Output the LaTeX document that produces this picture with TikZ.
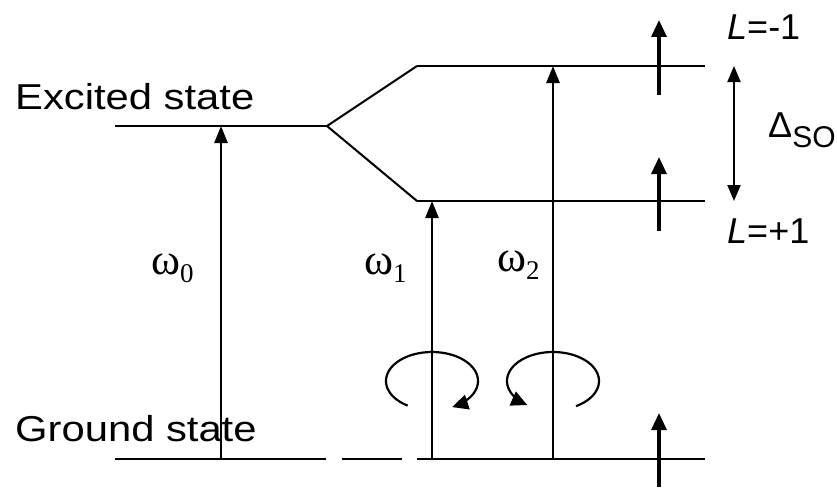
\documentclass[tikz,border=0pt]{standalone}
\usepackage{fontspec}
\setmainfont{Liberation Serif}
\newfontfamily\arialfont{Liberation Sans}
\usetikzlibrary{arrows.meta}
\begin{document}
\begin{tikzpicture}[x=1pt,y=-1pt,
  level/.style={line width=2.6pt},
  split/.style={line width=2pt},
  trans/.style={line width=2.6pt,-{Triangle[length=17pt,width=13pt]}},
  spin/.style={line width=3.2pt,-{Triangle[length=17pt,width=15pt]}},
  circ/.style={line width=2.2pt,-{Triangle[length=16pt,width=15pt]}},
  gap/.style={line width=2pt,{Triangle[length=16pt,width=13pt]}-{Triangle[length=16pt,width=13pt]}},
  statelab/.style={font=\arialfont\fontsize{36}{40}\selectfont, inner sep=0pt, anchor=base west},
  llab/.style={font=\arialfont\fontsize{36}{40}\selectfont, inner sep=0pt, anchor=base west},
  wlab/.style={font=\fontsize{44}{48}\selectfont, inner sep=0pt, anchor=base west}]
\useasboundingbox (0,0) rectangle (837,487);

% coordinates
\coordinate (ex1) at (115,126);
\coordinate (ex2) at (327,126);
\coordinate (up1) at (417,66);
\coordinate (up2) at (705,66);
\coordinate (lo1) at (417,201);
\coordinate (lo2) at (705,201);
\coordinate (g1a) at (115,459);
\coordinate (g1b) at (326,459);
\coordinate (g2a) at (342,459);
\coordinate (g2b) at (402,459);
\coordinate (g3a) at (417,459);
\coordinate (g3b) at (705,459);

% levels
\draw[level] (ex1) -- (ex2);
\draw[split] (ex2) -- (up1);
\draw[split] (ex2) -- (lo1);
\draw[level] (up1) -- (up2);
\draw[level] (lo1) -- (lo2);
\draw[level] (g1a) -- (g1b);
\draw[level] (g2a) -- (g2b);
\draw[level] (g3a) -- (g3b);

% transitions
\coordinate (w0b) at (221,459); \coordinate (w0t) at (221,126);
\coordinate (w1b) at (432,459); \coordinate (w1t) at (432,201);
\coordinate (w2b) at (553,459); \coordinate (w2t) at (553,66);
\draw[trans] (w0b) -- (w0t);
\draw[trans] (w1b) -- (w1t);
\draw[trans] (w2b) -- (w2t);

% spins
\coordinate (s1b) at (659,95);  \coordinate (s1t) at (659,20);
\coordinate (s2b) at (659,231); \coordinate (s2t) at (659,157);
\coordinate (s3b) at (659,487); \coordinate (s3t) at (659,413);
\draw[spin] (s1b) -- (s1t);
\draw[spin] (s2b) -- (s2t);
\draw[spin] (s3b) -- (s3t);

% splitting arrow
\coordinate (dt) at (734,66); \coordinate (db) at (734,201);
\draw[gap] (dt) -- (db);

% circular polarisation
\draw[circ] plot[smooth,domain=122:424,samples=70] ({432+46*cos(\x)},{381+29*sin(\x)});
\draw[circ] plot[smooth,domain=60:-236,samples=70] ({553+46*cos(\x)},{381+29*sin(\x)});

% labels
\node[statelab] (exl) at (15,109) {\scalebox{1.16}[1]{Excited state}};
\node[statelab] (grl) at (15,441) {\scalebox{1.16}[1]{Ground state}};
\node[llab] (lm) at (727,40) {\textit{L}=-1};
\node[llab] (lp) at (727,243) {\textit{L}=+1};
\node[llab] (dso) at (768,137) {Δ\raisebox{-10pt}{\fontsize{30}{32}\selectfont SO}};
\node[wlab] (w0) at (151,274) {ω\raisebox{-8pt}{\fontsize{27}{30}\selectfont 0}};
\node[wlab] (w1) at (364,274) {ω\raisebox{-8pt}{\fontsize{27}{30}\selectfont 1}};
\node[wlab] (w2) at (497,271) {ω\raisebox{-8pt}{\fontsize{27}{30}\selectfont 2}};
\end{tikzpicture}
\end{document}
